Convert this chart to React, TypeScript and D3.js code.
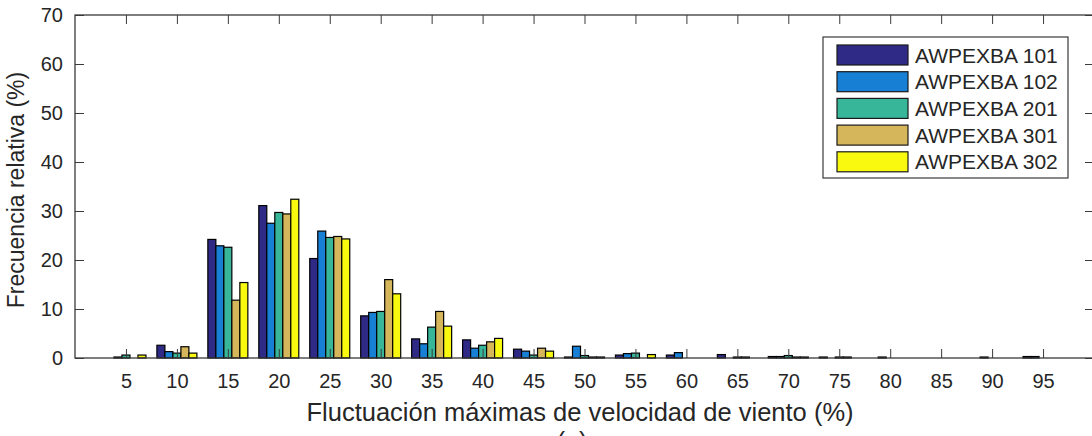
import React, { useEffect, useRef } from 'react';
import * as d3 from 'd3';

// wind fluctuation classes (%)
const categories = [5, 10, 15, 20, 25, 30, 35, 40, 45, 50, 55, 60, 65, 70, 75, 80, 85, 90, 95];
const seriesNames = ['AWPEXBA 101', 'AWPEXBA 102', 'AWPEXBA 201', 'AWPEXBA 301', 'AWPEXBA 302'];
const seriesColors = ['#2f2a86', '#177fd4', '#38b699', '#d5b65a', '#f8f90f'];

const s101 = [0, 2.6, 24.2, 31.1, 20.3, 8.6, 3.9, 3.7, 1.8, 0.2, 0.6, 0.6, 0.7, 0.3, 0.2, 0, 0, 0, 0.3];
const s102 = [0.2, 1.3, 22.9, 27.5, 25.9, 9.3, 2.9, 2.0, 1.4, 2.4, 0.9, 1.1, 0, 0.3, 0, 0.2, 0, 0.2, 0.3];
const s201 = [0.6, 1.0, 22.6, 29.7, 24.6, 9.5, 6.3, 2.6, 0.6, 0.5, 1.0, 0, 0.2, 0.5, 0.2, 0, 0, 0, 0];
const s301 = [0, 2.3, 11.8, 29.4, 24.8, 16.0, 9.5, 3.3, 2.0, 0.2, 0, 0, 0.2, 0.2, 0.2, 0, 0, 0, 0];
const s302 = [0.6, 1.0, 15.4, 32.4, 24.3, 13.1, 6.5, 4.0, 1.4, 0.2, 0.7, 0, 0, 0.2, 0, 0, 0, 0, 0];

const yTicks = [0, 10, 20, 30, 40, 50, 60, 70];

const allSeries = [s101, s102, s201, s301, s302];

export default function App() {
    const ref = useRef<SVGSVGElement>(null);

    useEffect(() => {
        const width = 1092;
        const height = 436;
        const left = 75, right = 1094, top = 15, bottom = 358;
        const textColor = '#262626';
        const font = 'Arial, "Liberation Sans", sans-serif';

        const svg = d3.select(ref.current);
        svg.selectAll('*').remove();
        svg.attr('width', width).attr('height', height);

        const x = d3.scaleLinear().domain([0, 100]).range([left, right]);
        const y = d3.scaleLinear().domain([0, 70]).range([bottom, top]);
        const inner = d3.scaleBand<number>().domain(d3.range(seriesNames.length)).range([-20, 20]);

        // bars
        allSeries.forEach((vals, si) => {
            svg.append('g')
                .selectAll('rect')
                .data(vals)
                .enter()
                .append('rect')
                .attr('x', (d, i) => x(categories[i]) + (inner(si) as number))
                .attr('y', (d) => y(d))
                .attr('width', inner.bandwidth())
                .attr('height', (d) => y(0) - y(d))
                .attr('fill', seriesColors[si])
                .attr('stroke', '#000')
                .attr('stroke-width', 1.2);
        });

        // axes box, ticks pointing inwards
        const tickLen = 9;
        const axisCol = '#3a3a3a';
        svg.append('g')
            .attr('transform', `translate(0,${bottom})`)
            .call(d3.axisBottom(x).tickValues(categories).tickSize(-tickLen).tickPadding(16).tickFormat(d3.format('d')))
            .call((g) => g.select('.domain').remove())
            .call((g) => g.selectAll('line').attr('stroke', axisCol))
            .call((g) => g.selectAll('text').attr('fill', textColor).style('font-size', '20px').style('font-family', font));
        svg.append('g')
            .attr('transform', `translate(0,${top})`)
            .call(d3.axisTop(x).tickValues(categories).tickSize(-tickLen).tickFormat(() => ''))
            .call((g) => g.select('.domain').remove())
            .call((g) => g.selectAll('line').attr('stroke', axisCol));
        svg.append('g')
            .attr('transform', `translate(${left},0)`)
            .call(d3.axisLeft(y).tickValues(yTicks).tickSize(-tickLen).tickPadding(12))
            .call((g) => g.select('.domain').remove())
            .call((g) => g.selectAll('line').attr('stroke', axisCol))
            .call((g) => g.selectAll('text').attr('fill', textColor).style('font-size', '20px').style('font-family', font));
        svg.append('g')
            .attr('transform', `translate(${right},0)`)
            .call(d3.axisRight(y).tickValues(yTicks).tickSize(-tickLen).tickFormat(() => ''))
            .call((g) => g.select('.domain').remove())
            .call((g) => g.selectAll('line').attr('stroke', axisCol));

        svg.append('rect')
            .attr('x', left).attr('y', top)
            .attr('width', right - left).attr('height', bottom - top)
            .attr('fill', 'none').attr('stroke', axisCol).attr('stroke-width', 1.3);

        // axis labels
        svg.append('text')
            .attr('x', 580).attr('y', 421)
            .attr('text-anchor', 'middle')
            .attr('fill', textColor)
            .style('font-size', '25.5px').style('font-family', font)
            .text('Fluctuación máximas de velocidad de viento (%)');
        svg.append('text')
            .attr('transform', 'translate(24,190) rotate(-90)')
            .attr('text-anchor', 'middle')
            .attr('fill', textColor)
            .style('font-size', '23px').style('font-family', font)
            .text('Frecuencia relativa (%)');
        svg.append('text')
            .attr('x', 572).attr('y', 450)
            .attr('text-anchor', 'middle')
            .attr('fill', textColor)
            .style('font-size', '25px').style('font-family', font)
            .text('(a)');

        // legend
        const lg = svg.append('g');
        lg.append('rect')
            .attr('x', 823).attr('y', 37)
            .attr('width', 245).attr('height', 141)
            .attr('fill', '#fff').attr('stroke', axisCol).attr('stroke-width', 1.2);
        seriesNames.forEach((name, i) => {
            const ry = 45 + i * 26.7;
            lg.append('rect')
                .attr('x', 837).attr('y', ry)
                .attr('width', 71).attr('height', 20)
                .attr('fill', seriesColors[i])
                .attr('stroke', '#1a1a1a').attr('stroke-width', 1.2);
            lg.append('text')
                .attr('x', 915).attr('y', ry + 10)
                .attr('dy', '0.36em')
                .attr('fill', textColor)
                .style('font-size', '21px').style('font-family', font)
                .text(name);
        });
    }, []);

    return <svg ref={ref} style={{ position: 'absolute', left: 0, top: 0 }} />;
}
